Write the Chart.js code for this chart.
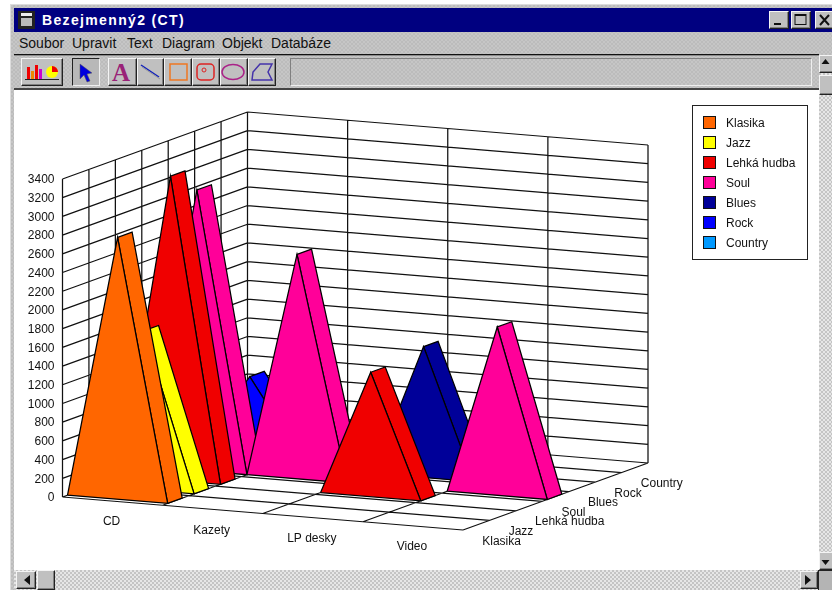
<!DOCTYPE html>
<html>
<head>
<meta charset="utf-8">
<style>
html,body{margin:0;padding:0;background:#fff;width:832px;height:590px;overflow:hidden;font-family:"Liberation Sans",sans-serif}
.a{position:absolute;box-sizing:border-box}
.dith{background:repeating-conic-gradient(#bcbcbc 0 25%,#c6c6c6 0 50%) 0 0/4px 4px}
.track{background:repeating-conic-gradient(#c4c4c4 0 25%,#e6e6e6 0 50%) 0 0/4px 4px}
.btn{background:#c0c0c0;border:1px solid;border-color:#f4f4f4 #222 #222 #f4f4f4;box-shadow:inset -1px -1px 0 #808080}
.menu{position:absolute;top:34px;font-size:14px;color:#111;line-height:18px}
canvas{position:absolute;left:0;top:0;filter:blur(0.3px)}
svg{position:absolute;left:0;top:0}
</style>
</head>
<body>
<div class="a dith" style="left:10px;top:4px;width:822px;height:586px;border-top:1px solid #ddd;border-left:1px solid #ddd"></div>
<div class="a" style="left:14px;top:8px;width:818px;height:24px;background:#000080"></div>
<div class="a" style="left:42px;top:11px;color:#fff;font-weight:bold;font-size:14px;letter-spacing:1.35px;line-height:18px">Bezejmenný2 (CT)</div>
<div class="a btn" style="left:769px;top:11px;width:20px;height:18px"></div>
<div class="a btn" style="left:791px;top:11px;width:20px;height:18px"></div>
<div class="a btn" style="left:815px;top:11px;width:19px;height:18px"></div>
<div class="menu" style="left:19px">Soubor</div>
<div class="menu" style="left:72px">Upravit</div>
<div class="menu" style="left:127px">Text</div>
<div class="menu" style="left:162px">Diagram</div>
<div class="menu" style="left:222px">Objekt</div>
<div class="menu" style="left:271px">Databáze</div>
<div class="a" style="left:14px;top:54px;width:805px;height:1px;background:#111"></div>
<div class="a" style="left:14px;top:55px;width:805px;height:1px;background:#8a8a8a"></div>
<div class="a btn" style="left:21px;top:58px;width:42px;height:28px"></div>
<div class="a" style="left:72px;top:58px;width:28px;height:28px;background:#b8b8b8;border:1px solid;border-color:#222 #eee #eee #222"></div>
<div class="a btn" style="left:108px;top:58px;width:29px;height:28px"></div>
<div class="a btn" style="left:137px;top:58px;width:27px;height:28px"></div>
<div class="a btn" style="left:164px;top:58px;width:28px;height:28px"></div>
<div class="a btn" style="left:192px;top:58px;width:28px;height:28px"></div>
<div class="a btn" style="left:220px;top:58px;width:28px;height:28px"></div>
<div class="a btn" style="left:248px;top:58px;width:28px;height:28px"></div>
<div class="a" style="left:290px;top:58px;width:522px;height:28px;border:1px solid;border-color:#808080 #eee #eee #808080"></div>
<div class="a" style="left:14px;top:88px;width:805px;height:2px;background:#444"></div>
<div class="a" style="left:14px;top:90px;width:805px;height:480px;background:#fff"></div>
<div class="a track" style="left:819px;top:55px;width:13px;height:515px"></div>
<div class="a btn" style="left:819px;top:55px;width:15px;height:18px"></div>
<div class="a btn" style="left:819px;top:75px;width:15px;height:20px"></div>
<div class="a btn" style="left:819px;top:552px;width:15px;height:18px"></div>
<div class="a track" style="left:14px;top:570px;width:805px;height:20px"></div>
<div class="a btn" style="left:16px;top:571px;width:20px;height:18px"></div>
<div class="a btn" style="left:37px;top:570px;width:18px;height:20px"></div>
<div class="a btn" style="left:800px;top:571px;width:18px;height:18px"></div>
<div class="a" style="left:818px;top:570px;width:14px;height:20px;background:#b4b4b4;border-top:1px solid #222;border-left:1px solid #222"></div>
<svg width="832" height="590">
  <rect x="18" y="11" width="17" height="18" fill="#222"/><rect x="21" y="18" width="11" height="8" fill="#bbb"/><rect x="21" y="13" width="11" height="3" fill="#eee"/>
  <rect x="774" y="23" width="7" height="2" fill="#111"/>
  <rect x="795" y="14.5" width="11" height="10" fill="none" stroke="#111" stroke-width="1"/><rect x="795" y="14" width="11" height="2" fill="#111"/>
  <path d="M820 15l9 10M829 15l-9 10" stroke="#111" stroke-width="2"/>
  <path d="M825.5 59l4 5h-8zM825.5 565l4-5h-8zM24 580l6-5v10zM811 580l-6-5v10z" fill="#111"/>
  <rect x="27" y="67" width="3" height="12" fill="#e00"/><rect x="31" y="71" width="3" height="8" fill="#e80"/><rect x="35" y="65" width="3" height="14" fill="#e00"/><rect x="39" y="69" width="3" height="10" fill="#c0c"/>
  <circle cx="52" cy="72" r="6" fill="#ff0"/><path d="M52 66a6 6 0 0 1 6 6h-6z" fill="#e00"/><path d="M25 79.500h34" stroke="#222"/>
  <path d="M80 64l0 15 4-4 3 7 3-1-3-7 5-1z" fill="#0000dd" stroke="#555" stroke-width=".5"/>
  <text x="112" y="81" font-family="Liberation Serif" font-size="25" font-weight="bold" fill="#992277">A</text>
  <path d="M141 65l18 12" stroke="#1122bb" stroke-width="1.5"/><path d="M142 67l18 12" stroke="#999"/>
  <rect x="170" y="64" width="17" height="16" fill="none" stroke="#ee7722" stroke-width="1.500"/>
  <rect x="197" y="64" width="17" height="16" rx="4" fill="none" stroke="#dd2222" stroke-width="1.500"/><circle cx="204" cy="70" r="2" fill="none" stroke="#dd2222"/>
  <ellipse cx="233" cy="72" rx="11" ry="7.500" fill="none" stroke="#aa2288" stroke-width="1.500"/>
  <path d="M252 80l1-8 7-8 12 0-4 8 4 8z" fill="none" stroke="#4433aa" stroke-width="1.500"/>
</svg>
<canvas id="c" width="832" height="590"></canvas>
<script src="https://cdn.jsdelivr.net/npm/chart.js@4"></script>
<script>
const categories = ["CD", "Kazety", "LP desky", "Video"];
const seriesNames = ["Klasika", "Jazz", "Lehká hudba", "Soul", "Blues", "Rock", "Country"];
const seriesColors = ["#FF6600", "#FFFF00", "#F00000", "#FF0099", "#000099", "#0000FF", "#0099FF"];
const klasika = [2800, 0, 0, 0];
const jazz = [1700, 0, 0, 0];
const lehkaHudba = [3250, 0, 1330, 0];
const soul = [3000, 2400, 0, 1800];
const blues = [0, 0, 1400, 0];
const rock = [800, 0, 0, 0];
const country = [0, 0, 0, 0];
const seriesValues = [klasika, jazz, lehkaHudba, soul, blues, rock, country];
const valueTicks = [0,200,400,600,800,1000,1200,1400,1600,1800,2000,2200,2400,2600,2800,3000,3200,3400];

// oblique projection: u = position along categories, v = depth along series, value = height
const maxValue = valueTicks[valueTicks.length - 1];
const view = {x0: 62.5, y0: 497, ux: 400.5, uy: 33, vx: 185, vy: -67, h: 318};
function project(u, v, value) {
  return {
    x: view.x0 + view.ux * u + view.vx * v,
    y: view.y0 + view.uy * u + view.vy * v - (value / maxValue) * view.h
  };
}
const nC = categories.length, nS = seriesNames.length;
const gap = {x: null, y: null};

// walls and floor grid
const grid = [];
function seg(a, b) { grid.push(a, b, gap); }
valueTicks.forEach(t => {
  seg(project(0, 0, t), project(0, 1, t));
  seg(project(0, 1, t), project(1, 1, t));
});
for (let k = 0; k <= nS; k++) {
  seg(project(0, k / nS, 0), project(0, k / nS, maxValue));
  seg(project(0, k / nS, 0), project(1, k / nS, 0));
}
for (let k = 0; k <= nC; k++) {
  seg(project(k / nC, 1, 0), project(k / nC, 1, maxValue));
  seg(project(k / nC, 0, 0), project(k / nC, 1, 0));
}

const datasets = [{data: grid, borderColor: "#111", borderWidth: 1.25, showLine: true, pointRadius: 0, fill: false, order: 5000, clip: false}];
function face(points, color, order) {
  datasets.push({
    data: points.concat([points[0]]), borderColor: "#000", borderWidth: 1.25, backgroundColor: color,
    showLine: true, pointRadius: 0, fill: "shape", order: order, clip: false, borderJoinStyle: "miter"
  });
}
let order = 4000;
const barStart = 0.19, barDepth = 0.55;
for (let s = nS - 1; s >= 0; s--) {
  for (let c = 0; c < nC; c++) {
    const val = seriesValues[s][c];
    if (!val) continue;
    const u0 = c / nC, u1 = (c + 1) / nC, um = (c + 0.5) / nC;
    const v0 = (s + barStart) / nS, v1 = (s + barStart + barDepth) / nS;
    face([project(u1, v0, 0), project(um, v0, val), project(um, v1, val), project(u1, v1, 0)], seriesColors[s], order--);
    face([project(u0, v0, 0), project(um, v0, val), project(u1, v0, 0)], seriesColors[s], order--);
  }
}

function swatch(color) {
  const cv = document.createElement("canvas");
  cv.width = 17; cv.height = 16;
  const g = cv.getContext("2d");
  g.fillStyle = color; g.fillRect(0, 0, 13, 13);
  g.strokeStyle = "#111"; g.lineWidth = 1; g.strokeRect(0.5, 0.5, 12, 12);
  return cv;
}

const textFont = '12px "Liberation Sans"';
const axisText = {
  id: "axisText",
  afterLayout(chart) {
    const x = chart.scales.x;
    x.min = chart.chartArea.left; x.max = chart.chartArea.right; x.configure();
    chart.legend.left = 695; chart.legend.top = 110;
  },
  afterDraw(chart) {
    const {ctx, scales: {x, y}} = chart;
    ctx.save();
    ctx.font = textFont; ctx.fillStyle = "#111"; ctx.textBaseline = "middle";
    ctx.textAlign = "right";
    valueTicks.forEach(t => {
      const p = project(0, 0, t);
      ctx.fillText(String(t), x.getPixelForValue(p.x) - 8, y.getPixelForValue(p.y) + 1);
    });
    ctx.textAlign = "center";
    categories.forEach((name, c) => {
      const p = project((c + 0.5) / nC, 0, 0);
      ctx.fillText(name, x.getPixelForValue(p.x) - 1, y.getPixelForValue(p.y) + 21);
    });
    ctx.textAlign = "left";
    seriesNames.forEach((name, s) => {
      const p = project(1, (s + 0.5) / nS, 0);
      ctx.fillText(name, x.getPixelForValue(p.x) + 6, y.getPixelForValue(p.y) + 16);
    });
    ctx.strokeStyle = "#222"; ctx.lineWidth = 1;
    ctx.strokeRect(692.5, 105.5, 115, 154);
    ctx.restore();
  }
};

new Chart(document.getElementById("c"), {
  type: "scatter",
  data: {datasets},
  plugins: [axisText],
  options: {
    responsive: false, animation: false, devicePixelRatio: 1, events: [],
    layout: {padding: 0},
    elements: {line: {tension: 0}},
    scales: {
      x: {type: "linear", display: false, min: 0, max: 832},
      y: {type: "linear", display: false, reverse: true, min: 0, max: 590}
    },
    plugins: {
      tooltip: {enabled: false},
      title: {display: false},
      legend: {
        display: true, position: "right", align: "start",
        labels: {
          font: {family: "Liberation Sans", size: 12}, color: "#111", padding: 8,
          usePointStyle: true, pointStyleWidth: 17,
          generateLabels: () => seriesNames.map((name, i) => ({
            text: name, pointStyle: swatch(seriesColors[i]), fontColor: "#111", hidden: false, lineWidth: 0
          }))
        }
      }
    }
  }
});
</script>
</body>
</html>
